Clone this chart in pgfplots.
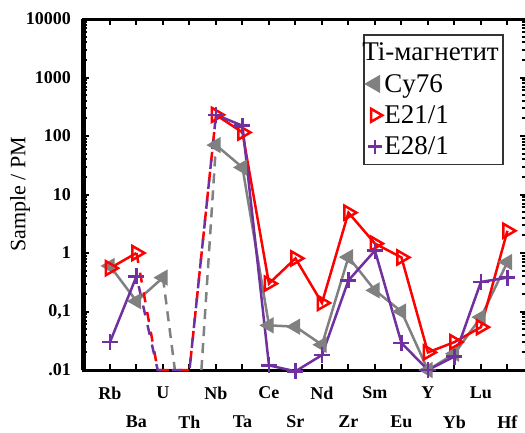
\documentclass[border=0pt]{standalone}
\usepackage{fontspec}
\setmainfont{Liberation Serif}
\newfontfamily\legfont{Liberation Serif}
\usepackage{pgfplots}
\pgfplotsset{compat=1.18}

\definecolor{cygray}{RGB}{128,128,128}
\definecolor{ered}{RGB}{255,0,0}
\definecolor{epurp}{RGB}{112,48,160}
\newcommand{\legtext}[1]{{\legfont\fontsize{27}{30}\selectfont #1}}

\begin{document}
\begin{tikzpicture}
\begin{axis}[
  at={(0,0)}, anchor=south west,
  scale only axis, width=443pt, height=351pt,
  ymode=log, ymin=0.01, ymax=10000,
  xmin=-1, xmax=15.72,
  clip=false,
  axis line style={line width=3pt},
  tick style={line width=2pt, black},
  major tick length=6pt, minor tick length=4pt,
  xtick={0,2,...,14},
  xticklabels={Rb,U,Nb,Ce,Nd,Sm,Y,Lu},
  extra x ticks={1,3,...,15},
  extra x tick labels={Ba,Th,Ta,Sr,Zr,Eu,Yb,Hf},
  extra x tick style={xticklabel style={yshift=-29pt}},
  xticklabel style={font=\legfont\bfseries\fontsize{18}{20}\selectfont, yshift=-13pt},
  ytick={0.01,0.1,1,10,100,1000,10000},
  yticklabels={.01,{0,1},1,10,100,1000,10000},
  yticklabel style={font=\legfont\bfseries\fontsize{18}{20}\selectfont, xshift=-9pt},
  ylabel={Sample / PM},
  ylabel style={font=\legfont\fontsize{22}{24}\selectfont, at={(axis description cs:-0.1433,0.5)}, anchor=center},
  legend style={at={(axis description cs:0.631,0.957)}, anchor=north west,
    draw=black!80, line width=1.5pt, font=\legfont\fontsize{27}{30}\selectfont,
    row sep=0pt, inner sep=2pt, nodes={inner ysep=6pt}},
  legend cell align=left,
]
% Cy76
\addplot[forget plot, cygray, line width=2.5pt, mark=triangle*, mark size=8.5pt,
  mark options={rotate=90, fill=cygray, draw=cygray, line width=1pt}]
  coordinates {(0,0.6) (1,0.15) (2,0.38)};
\addplot[forget plot, cygray, line width=2.5pt, dash pattern=on 10pt off 7pt]
  coordinates {(2,0.38) (2.45,0.01)};
\addplot[forget plot, cygray, line width=2.5pt, dash pattern=on 10pt off 7pt]
  coordinates {(3.45,0.01) (4,70)};
\addplot[forget plot, cygray, line width=2.5pt, mark=triangle*, mark size=8.5pt,
  mark options={rotate=90, fill=cygray, draw=cygray, line width=1pt}]
  coordinates {(4,70) (5,29) (6,0.058) (7,0.055) (8,0.027) (9,0.85) (10,0.23)
  (11,0.1) (12,0.01) (13,0.019) (14,0.08) (15,0.7)};
% E21/1
\addplot[forget plot, ered, line width=2.5pt, dash pattern=on 10pt off 10pt]
  coordinates {(1,1.0) (1.8,0.01) (3,0.01) (4,230)};
\addplot[forget plot, ered, line width=2.5pt, mark=triangle, mark size=8pt,
  mark options={rotate=-90, fill=white, draw=ered, solid}]
  coordinates {(0,0.55) (1,1.0)};
\addplot[forget plot, ered, line width=2.5pt, mark=triangle, mark size=8pt,
  mark options={rotate=-90, fill=white, draw=ered, solid}]
  coordinates {(4,230) (5,115) (6,0.30) (7,0.81) (8,0.14) (9,4.9) (10,1.45)
  (11,0.84) (12,0.02) (13,0.03) (14,0.054) (15,2.4)};
% E28/1
\addplot[forget plot, epurp, line width=2.5pt, dash pattern=on 10pt off 10pt, dash phase=10pt]
  coordinates {(1,0.4) (1.8,0.01) (3,0.01) (4,230)};
\addplot[forget plot, epurp, line width=2.5pt, mark=+, mark size=8pt,
  mark options={solid}]
  coordinates {(0,0.03) (1,0.4)};
\addplot[forget plot, epurp, line width=2.5pt, mark=+, mark size=8pt,
  mark options={solid}]
  coordinates {(4,230) (5,150) (6,0.012) (7,0.0095) (8,0.018) (9,0.34) (10,1.1)
  (11,0.029) (12,0.01) (13,0.017) (14,0.32) (15,0.38)};
% legend
\addlegendimage{empty legend}
\addlegendentry{\hspace*{-22pt}\legtext{Ti-магнетит}}
\addlegendimage{only marks, mark=triangle*, mark size=9pt,
  mark options={rotate=90, fill=cygray, draw=cygray}}
\addlegendentry{\legtext{Cy76}}
\addlegendimage{only marks, mark=triangle, mark size=7.5pt,
  mark options={rotate=-90, fill=white, draw=ered, line width=2.5pt}}
\addlegendentry{\legtext{E21/1}}
\addlegendimage{only marks, mark=+, mark size=7pt,
  mark options={draw=epurp, line width=2.5pt}}
\addlegendentry{\legtext{E28/1}}
\draw[line width=5pt] (rel axis cs:0,0) -- (rel axis cs:0,1);
\end{axis}
\pgfresetboundingbox
\path (-83.5pt,-62pt) rectangle (441.5pt,370pt);
\end{tikzpicture}
\end{document}
